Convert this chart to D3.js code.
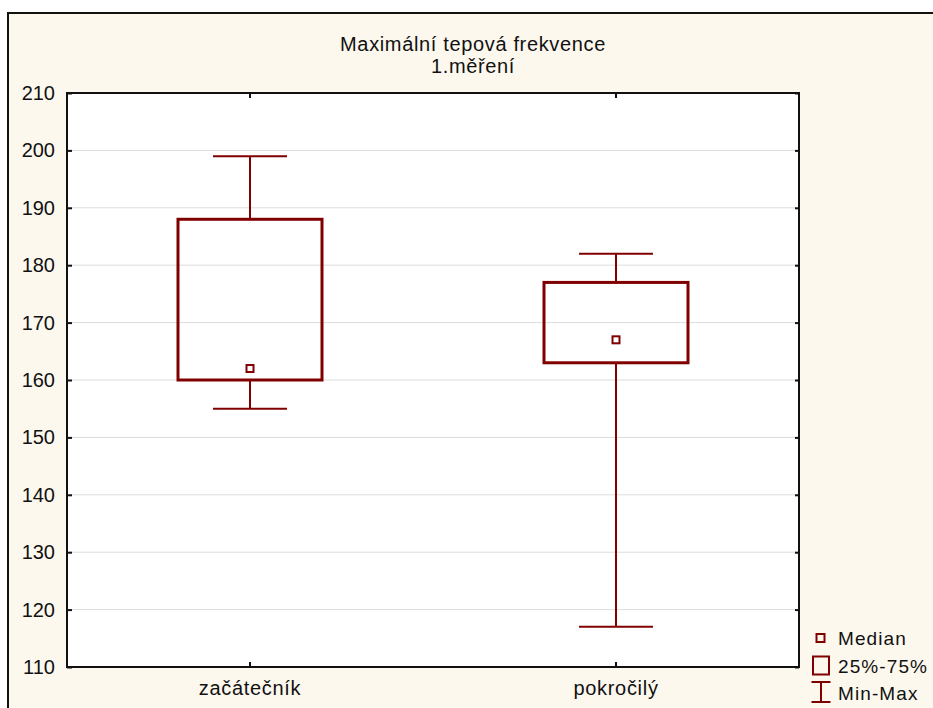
<!DOCTYPE html>
<html>
<head>
<meta charset="utf-8">
<script src="https://cdn.jsdelivr.net/npm/d3@7"></script>
<style>
  body { margin: 0; background: #fff; }
  text { font-family: "Liberation Sans", Arial, sans-serif; fill: #111; }
</style>
</head>
<body>
<script>
// chart data
const categories = ["začátečník", "pokročilý"];
const minValues = [155, 117];
const q1Values = [160, 163];
const medianValues = [162, 167];
const q3Values = [188, 177];
const maxValues = [199, 182];
const yTicks = [110, 120, 130, 140, 150, 160, 170, 180, 190, 200, 210];
const titleLines = ["Maximální tepová frekvence", "1.měření"];
const legendItems = ["Median", "25%-75%", "Min-Max"];

const W = 933, H = 708;
const plot = { left: 67, right: 799, top: 93, bottom: 667 };
const red = "#800000";
const font = "'Liberation Sans', Arial, sans-serif";

const svg = d3.select("body").append("svg").attr("width", W).attr("height", H);

// cream background and outer frame
svg.append("rect").attr("width", W).attr("height", H).attr("fill", "#fff");
svg.append("rect").attr("x", 8).attr("y", 13).attr("width", W).attr("height", H)
  .attr("fill", "#fdf8ee").attr("stroke", "#111").attr("stroke-width", 2);

// title
svg.selectAll("text.title").data(titleLines).join("text")
  .attr("class", "title")
  .attr("x", 473)
  .attr("y", (d, i) => 51 + i * 22)
  .attr("text-anchor", "middle")
  .attr("font-size", 20)
  .attr("letter-spacing", 0.65)
  .text(d => d);

const x = d3.scaleBand().domain(categories).range([plot.left, plot.right]);
const y = d3.scaleLinear().domain([110, 210]).range([plot.bottom, plot.top]);

// plot area
svg.append("rect").attr("x", plot.left).attr("y", plot.top)
  .attr("width", plot.right - plot.left).attr("height", plot.bottom - plot.top)
  .attr("fill", "#fff");

// gridlines
svg.append("g").selectAll("line").data(yTicks.slice(1, -1)).join("line")
  .attr("x1", plot.left).attr("x2", plot.right)
  .attr("y1", d => y(d)).attr("y2", d => y(d))
  .attr("stroke", "#dcdcdc").attr("stroke-width", 1);

// axes - ticks all point inward
const yLabels = svg.append("g").attr("transform", `translate(${plot.left},0)`)
  .call(d3.axisLeft(y).tickValues(yTicks).tickSize(0).tickPadding(12).tickFormat(d3.format("d")));
const yAxis = svg.append("g").attr("transform", `translate(${plot.left},0)`)
  .call(d3.axisRight(y).tickValues(yTicks).tickSize(5).tickFormat(""));
const yAxisR = svg.append("g").attr("transform", `translate(${plot.right},0)`)
  .call(d3.axisLeft(y).tickValues(yTicks).tickSize(4).tickFormat(""));
const xAxis = svg.append("g").attr("transform", `translate(0,${plot.bottom})`)
  .call(d3.axisTop(x).tickSize(5).tickFormat(""));
const xLabels = svg.append("g").attr("transform", `translate(0,${plot.bottom})`)
  .call(d3.axisBottom(x).tickSize(0).tickPadding(14));
const xAxisT = svg.append("g").attr("transform", `translate(0,${plot.top})`)
  .call(d3.axisBottom(x).tickSize(5).tickFormat(""));

[yLabels, yAxis, yAxisR, xAxis, xLabels, xAxisT].forEach(g => {
  g.select(".domain").remove();
  g.selectAll("line").attr("stroke", "#111").attr("stroke-width", 2);
  g.selectAll("text").attr("font-size", 20).attr("fill", "#111").style("font-family", font);
});
xLabels.selectAll("text").attr("letter-spacing", 0.7);

// frame of plot
svg.append("rect").attr("x", plot.left).attr("y", plot.top)
  .attr("width", plot.right - plot.left).attr("height", plot.bottom - plot.top)
  .attr("fill", "none").attr("stroke", "#111").attr("stroke-width", 2);

// boxes
const boxW = 144, capW = 74, medS = 7;
const boxes = categories.map((c, i) => ({
  c, min: minValues[i], q1: q1Values[i], med: medianValues[i], q3: q3Values[i], max: maxValues[i]
}));
const g = svg.append("g").selectAll("g").data(boxes).join("g")
  .attr("transform", d => `translate(${x(d.c) + x.bandwidth() / 2},0)`);

// whiskers
g.append("line").attr("x1", 0).attr("x2", 0)
  .attr("y1", d => y(d.max)).attr("y2", d => y(d.q3))
  .attr("stroke", red).attr("stroke-width", 2);
g.append("line").attr("x1", 0).attr("x2", 0)
  .attr("y1", d => y(d.q1)).attr("y2", d => y(d.min))
  .attr("stroke", red).attr("stroke-width", 2);
g.append("line").attr("x1", -capW / 2).attr("x2", capW / 2)
  .attr("y1", d => y(d.max)).attr("y2", d => y(d.max))
  .attr("stroke", red).attr("stroke-width", 2);
g.append("line").attr("x1", -capW / 2).attr("x2", capW / 2)
  .attr("y1", d => y(d.min)).attr("y2", d => y(d.min))
  .attr("stroke", red).attr("stroke-width", 2);
// box
g.append("rect").attr("x", -boxW / 2).attr("width", boxW)
  .attr("y", d => y(d.q3)).attr("height", d => y(d.q1) - y(d.q3))
  .attr("fill", "none").attr("stroke", red).attr("stroke-width", 3);
// median
g.append("rect").attr("x", -medS / 2).attr("width", medS)
  .attr("y", d => y(d.med) - medS / 2).attr("height", medS)
  .attr("fill", "#fff").attr("stroke", red).attr("stroke-width", 2);

// legend
const lg = svg.append("g").attr("transform", "translate(821,0)");
lg.append("rect").attr("x", -4.5).attr("y", 634).attr("width", 8).attr("height", 8)
  .attr("fill", "none").attr("stroke", red).attr("stroke-width", 2);
lg.append("rect").attr("x", -8).attr("y", 656.5).attr("width", 16).attr("height", 18)
  .attr("fill", "none").attr("stroke", red).attr("stroke-width", 2);
lg.append("line").attr("x1", 0).attr("x2", 0).attr("y1", 682).attr("y2", 702)
  .attr("stroke", red).attr("stroke-width", 2);
lg.append("line").attr("x1", -9.5).attr("x2", 9.5).attr("y1", 682).attr("y2", 682)
  .attr("stroke", red).attr("stroke-width", 2);
lg.append("line").attr("x1", -9.5).attr("x2", 9.5).attr("y1", 702).attr("y2", 702)
  .attr("stroke", red).attr("stroke-width", 2);
lg.selectAll("text").data(legendItems).join("text")
  .attr("x", 17).attr("y", (d, i) => 645 + i * 27.5)
  .attr("font-size", 19)
  .attr("letter-spacing", 1.1)
  .text(d => d);
</script>
</body>
</html>
